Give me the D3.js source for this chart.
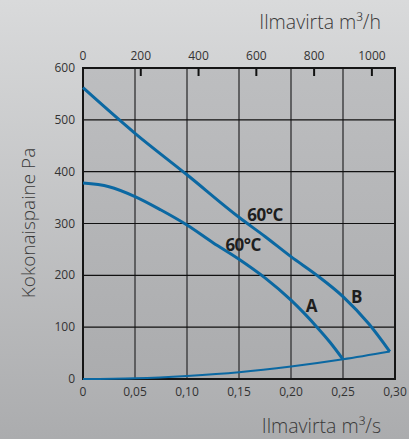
<!DOCTYPE html>
<html><head><meta charset="utf-8">
<script src="https://cdn.jsdelivr.net/npm/d3@7"></script>
<style>
html,body{margin:0;padding:0;}
body{width:409px;height:439px;overflow:hidden;}
text{font-family:"Open Sans","Noto Sans",sans-serif;}
</style></head>
<body>
<svg id="c" width="409" height="439"></svg>
<script>
// data (x in m3/s, y in Pa)
const curveBx = [0, 0.05, 0.10, 0.15, 0.175, 0.20, 0.225, 0.25, 0.275, 0.295];
const curveBy = [562, 474, 394, 312, 275, 236, 200, 159, 106, 53];
const curveAx = [0, 0.025, 0.05, 0.075, 0.10, 0.125, 0.15, 0.175, 0.20, 0.225, 0.2375, 0.25];
const curveAy = [378, 371, 352, 326, 297, 263, 231, 195, 152, 100, 71, 38];
const systemX = [0, 0.05, 0.10, 0.15, 0.20, 0.25, 0.295];
const systemY = [0, 1.5, 6, 13, 24, 38, 53];
const xTicksS = [0, 0.05, 0.10, 0.15, 0.20, 0.25, 0.30];
const xTicksH = [0, 200, 400, 600, 800, 1000];
const yTicks = [0, 100, 200, 300, 400, 500, 600];
const labels = [
  {text:"60°C", x:0.175, y:305},
  {text:"60°C", x:0.154, y:247},
  {text:"A", x:0.2197, y:129},
  {text:"B", x:0.263, y:147}
];

const svg = d3.select("#c");
const defs = svg.append("defs");
const bg = defs.append("linearGradient").attr("id","bg").attr("x1",0).attr("y1",0).attr("x2",0).attr("y2",1);
bg.append("stop").attr("offset","0%").attr("stop-color","#d9dadb");
bg.append("stop").attr("offset","100%").attr("stop-color","#abacae");
const pg = defs.append("linearGradient").attr("id","pg").attr("x1",0).attr("y1",0).attr("x2",0).attr("y2",1);
pg.append("stop").attr("offset","0%").attr("stop-color","#bdbec0");
pg.append("stop").attr("offset","100%").attr("stop-color","#abacae");

svg.append("rect").attr("width",409).attr("height",439).attr("fill","url(#bg)");

const L=83, R=395, T=68, B=379;
const x = d3.scaleLinear().domain([0,0.30]).range([L,R]);
const xh = d3.scaleLinear().domain([0,1080]).range([L, L + (1080/3600)/0.30*(R-L)]);
const y = d3.scaleLinear().domain([0,600]).range([B,T]);

svg.append("rect").attr("x",L).attr("y",T).attr("width",R-L).attr("height",B-T).attr("fill","url(#pg)");

// grid
const g = svg.append("g");
g.selectAll(".vg").data(xTicksS.filter(d=>d>0 && d<0.30)).join("line")
  .attr("x1",d=>x(d)).attr("x2",d=>x(d)).attr("y1",T).attr("y2",B)
  .attr("stroke","#4a4a4c").attr("stroke-width",1.6);
g.selectAll(".hg").data(yTicks.filter(d=>d>0 && d<600)).join("line")
  .attr("x1",L).attr("x2",R).attr("y1",d=>y(d)).attr("y2",d=>y(d))
  .attr("stroke","#111").attr("stroke-width",1.1);
// top ticks
g.selectAll(".tt").data(xTicksH.filter(d=>d>0)).join("line")
  .attr("x1",d=>xh(d)).attr("x2",d=>xh(d)).attr("y1",T).attr("y2",T+8)
  .attr("stroke","#111").attr("stroke-width",2);

// frame
svg.append("rect").attr("x",L).attr("y",T).attr("width",R-L).attr("height",B-T)
  .attr("fill","none").attr("stroke","#151515").attr("stroke-width",2);

// curves
const line = d3.line().x(d=>x(d[0])).y(d=>y(d[1])).curve(d3.curveMonotoneX);
const blue = "#0b68a2";
svg.append("path").datum(systemX.map((v,i)=>[v,systemY[i]])).attr("d",line)
  .attr("fill","none").attr("stroke",blue).attr("stroke-width",2);
svg.append("path").datum(curveAx.map((v,i)=>[v,curveAy[i]])).attr("d",line)
  .attr("fill","none").attr("stroke",blue).attr("stroke-width",3);
svg.append("path").datum(curveBx.map((v,i)=>[v,curveBy[i]])).attr("d",line)
  .attr("fill","none").attr("stroke",blue).attr("stroke-width",3);

// curve labels
svg.selectAll(".lab").data(labels).join("text")
  .attr("x",d=>x(d.x)).attr("y",d=>y(d.y)).attr("text-anchor","middle")
  .attr("font-size",17).attr("font-weight","bold").attr("fill","#1e1e1e")
  .attr("letter-spacing",-0.5)
  .text(d=>d.text);

// tick labels
const fmt = d => d===0 ? "0" : d.toFixed(2).replace(".",",");
svg.selectAll(".bl").data(xTicksS).join("text")
  .attr("x",d=>x(d)).attr("y",396).attr("text-anchor","middle")
  .attr("font-size",12).attr("fill","#333").text(fmt);
svg.selectAll(".tl").data(xTicksH).join("text")
  .attr("x",d=>xh(d)).attr("y",60).attr("text-anchor","middle")
  .attr("font-size",12).attr("fill","#333").text(d=>d);
svg.selectAll(".yl").data(yTicks).join("text")
  .attr("x",75).attr("y",d=>y(d)+4).attr("text-anchor","end")
  .attr("font-size",12).attr("fill","#333").text(d=>d);

// axis titles
svg.append("text").attr("x",381).attr("y",29).attr("text-anchor","end")
  .attr("font-size",19.5).attr("font-weight",300).attr("fill","#3a3a3a")
  .text("Ilmavirta m³/h");
svg.append("text").attr("x",381).attr("y",433).attr("text-anchor","end")
  .attr("font-size",19.5).attr("font-weight",300).attr("fill","#3a3a3a")
  .text("Ilmavirta m³/s");
svg.append("text").attr("transform","translate(35,223) rotate(-90)").attr("text-anchor","middle")
  .attr("font-size",19).attr("font-weight",300).attr("fill","#3a3a3a")
  .text("Kokonaispaine Pa");
</script>
</body></html>
